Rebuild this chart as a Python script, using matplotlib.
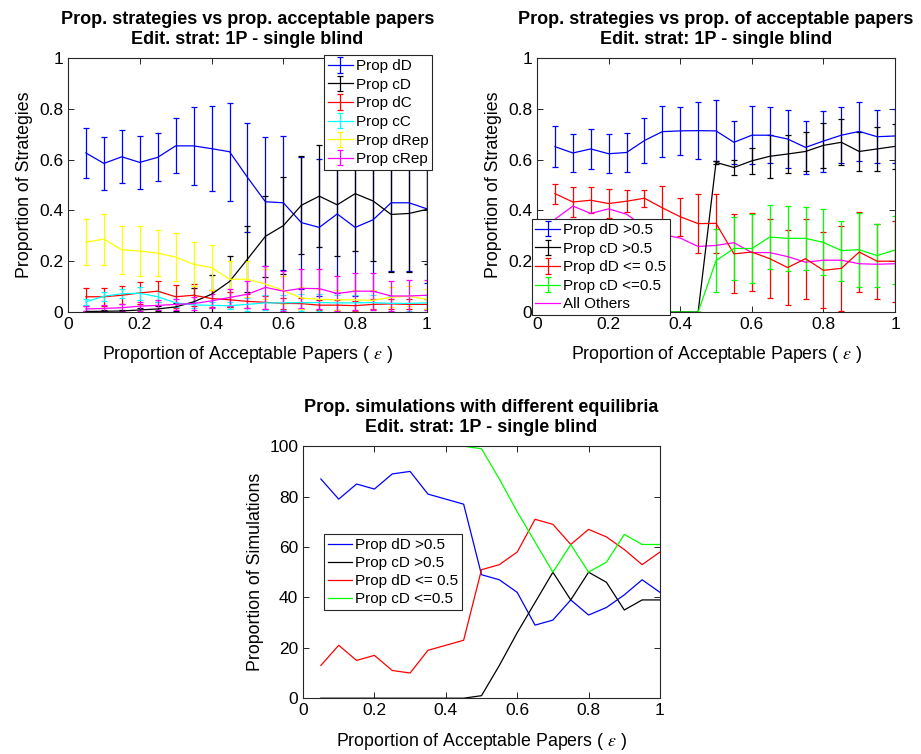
import numpy as np
import matplotlib
matplotlib.use("Agg")
import matplotlib.pyplot as plt

plt.rcParams["font.family"] = ["Liberation Sans", "DejaVu Sans"]
plt.rcParams["mathtext.fontset"] = "stix"

# x values: proportion of acceptable papers
eps = [0.05, 0.10, 0.15, 0.20, 0.25, 0.30, 0.35, 0.40, 0.45, 0.50,
       0.55, 0.60, 0.65, 0.70, 0.75, 0.80, 0.85, 0.90, 0.95, 1.00]

# top left: strategy proportions (mean, error)
dd_mean = [0.626, 0.585, 0.611, 0.589, 0.609, 0.654, 0.654, 0.643, 0.631, 0.530,
           0.434, 0.430, 0.352, 0.333, 0.386, 0.333, 0.363, 0.430, 0.430, 0.406]
dd_err = [0.100, 0.105, 0.104, 0.105, 0.094, 0.108, 0.153, 0.167, 0.193, 0.215,
          0.254, 0.264, 0.260, 0.270, 0.310, 0.270, 0.280, 0.270, 0.270, 0.290]
cd_mean = [0.002, 0.003, 0.004, 0.008, 0.012, 0.020, 0.040, 0.070, 0.120, 0.208,
           0.298, 0.340, 0.420, 0.456, 0.422, 0.466, 0.437, 0.384, 0.388, 0.404]
cd_err = [0.003, 0.004, 0.005, 0.008, 0.010, 0.015, 0.055, 0.075, 0.100, 0.130,
          0.160, 0.190, 0.193, 0.200, 0.200, 0.226, 0.237, 0.225, 0.230, 0.215]
dc_mean = [0.060, 0.060, 0.066, 0.075, 0.082, 0.060, 0.066, 0.053, 0.048, 0.042,
           0.038, 0.034, 0.033, 0.027, 0.027, 0.025, 0.030, 0.032, 0.030, 0.030]
dc_err = [0.035, 0.036, 0.035, 0.045, 0.042, 0.045, 0.044, 0.035, 0.030, 0.028,
          0.025, 0.022, 0.022, 0.020, 0.020, 0.020, 0.020, 0.020, 0.020, 0.020]
cc_mean = [0.040, 0.062, 0.072, 0.074, 0.060, 0.036, 0.028, 0.026, 0.025, 0.030,
           0.036, 0.036, 0.037, 0.037, 0.036, 0.036, 0.037, 0.034, 0.034, 0.036]
cc_err = [0.012, 0.018, 0.018, 0.026, 0.022, 0.015, 0.012, 0.012, 0.015, 0.025,
          0.030, 0.030, 0.035, 0.032, 0.030, 0.030, 0.030, 0.030, 0.030, 0.030]
drep_mean = [0.275, 0.287, 0.245, 0.240, 0.232, 0.216, 0.188, 0.175, 0.129, 0.129,
             0.110, 0.085, 0.055, 0.050, 0.048, 0.048, 0.046, 0.058, 0.062, 0.050]
drep_err = [0.090, 0.100, 0.095, 0.100, 0.090, 0.095, 0.086, 0.087, 0.071, 0.070,
            0.060, 0.055, 0.045, 0.040, 0.040, 0.040, 0.040, 0.040, 0.040, 0.040]
crep_mean = [0.012, 0.014, 0.017, 0.023, 0.026, 0.030, 0.033, 0.044, 0.057, 0.070,
             0.097, 0.082, 0.093, 0.092, 0.073, 0.082, 0.082, 0.063, 0.063, 0.066]
crep_err = [0.010, 0.012, 0.014, 0.018, 0.020, 0.022, 0.025, 0.028, 0.035, 0.053,
            0.086, 0.080, 0.078, 0.079, 0.069, 0.073, 0.073, 0.060, 0.064, 0.060]

# top right: proportion of strategies per equilibrium type
pdd_mean = [0.651, 0.626, 0.642, 0.623, 0.628, 0.675, 0.710, 0.713, 0.714, 0.713,
            0.668, 0.696, 0.696, 0.681, 0.648, 0.673, 0.696, 0.711, 0.690, 0.693]
pdd_err = [0.080, 0.075, 0.078, 0.077, 0.075, 0.087, 0.100, 0.093, 0.113, 0.120,
           0.084, 0.115, 0.110, 0.115, 0.105, 0.120, 0.110, 0.116, 0.105, 0.105]
pcd_mean = [0, 0, 0, 0, 0, 0, 0, 0, 0, 0.589,
            0.569, 0.595, 0.613, 0.622, 0.632, 0.656, 0.668, 0.632, 0.642, 0.652]
pcd_err = [0, 0, 0, 0, 0, 0, 0, 0, 0, 0.005,
           0.031, 0.052, 0.085, 0.076, 0.075, 0.090, 0.090, 0.075, 0.086, 0.090]
pdle_mean = [0.466, 0.433, 0.440, 0.427, 0.436, 0.448, 0.410, 0.375, 0.348, 0.349,
             0.229, 0.236, 0.210, 0.175, 0.210, 0.164, 0.172, 0.236, 0.200, 0.200]
pdle_err = [0.039, 0.060, 0.052, 0.056, 0.044, 0.034, 0.085, 0.075, 0.117, 0.115,
            0.155, 0.152, 0.155, 0.147, 0.158, 0.150, 0.168, 0.157, 0.147, 0.160]
pcle_mean = [0, 0, 0, 0, 0, 0, 0, 0, 0, 0.202,
             0.250, 0.250, 0.295, 0.290, 0.290, 0.274, 0.242, 0.245, 0.222, 0.244]
pcle_err = [0, 0, 0, 0, 0, 0, 0, 0, 0, 0.125,
            0.125, 0.135, 0.125, 0.127, 0.125, 0.130, 0.118, 0.145, 0.123, 0.135]
others = [0.365, 0.417, 0.388, 0.406, 0.385, 0.335, 0.305, 0.291, 0.258, 0.262,
          0.273, 0.234, 0.234, 0.218, 0.196, 0.204, 0.204, 0.190, 0.188, 0.190]

# bottom: percentage of simulations per equilibrium
sim_dd = [87, 79, 85, 83, 89, 90, 81, 79, 77, 49, 47, 42, 29, 31, 39, 33, 36, 41, 47, 42]
sim_cd = [0, 0, 0, 0, 0, 0, 0, 0, 0, 1, 13, 26, 38, 50, 39, 50, 46, 35, 39, 39]
sim_dle = [13, 21, 15, 17, 11, 10, 19, 21, 23, 51, 53, 58, 71, 69, 61, 67, 64, 59, 53, 58]
sim_cle = [100, 100, 100, 100, 100, 100, 100, 100, 100, 99, 87, 74, 62, 50, 61, 50, 54, 65, 61, 61]

BLUE = (0, 0, 1)
GREEN = (0, 1, 0)
XLABEL = r"Proportion of Acceptable Papers ( $\epsilon$ )"
AXCOL = "#262626"


def style_axes(ax, ymax=1.0, yticks=None):
    ax.set_xlim(0, 1)
    ax.set_ylim(0, ymax)
    ax.set_xticks([0, 0.2, 0.4, 0.6, 0.8, 1.0])
    ax.set_xticklabels(["0", "0.2", "0.4", "0.6", "0.8", "1"])
    if yticks is not None:
        ax.set_yticks(yticks[0])
        ax.set_yticklabels(yticks[1])
    ax.tick_params(direction="in", top=True, right=True, length=4,
                   width=0.7, labelsize=12.5, colors=AXCOL, labelcolor="black")
    for s in ax.spines.values():
        s.set_color(AXCOL)
        s.set_linewidth(0.8)
    ax.set_xlabel(XLABEL, fontsize=12.8, labelpad=9)


def eb(ax, y, e, color, label):
    return ax.errorbar(eps, y, yerr=e, color=color, lw=0.9, elinewidth=0.9,
                       capsize=2.5, capthick=0.9, label=label)


def add_legend(ax, handles, anchor, loc, spacing=0.3):
    leg = ax.legend(handles=handles, loc=loc, bbox_to_anchor=anchor, fontsize=11,
                    fancybox=False, edgecolor=AXCOL, framealpha=1, borderpad=0.25,
                    labelspacing=spacing, handlelength=1.6, handletextpad=0.2,
                    borderaxespad=0)
    leg.get_frame().set_linewidth(0.8)


fig = plt.figure(figsize=(9.21, 7.54), dpi=100)

yt = ([0, 0.2, 0.4, 0.6, 0.8, 1.0], ["0", "0.2", "0.4", "0.6", "0.8", "1"])
TITLE_KW = dict(fontsize=13, fontweight="bold", pad=10, linespacing=1.25)

# top left
ax1 = fig.add_axes([0.0738, 0.5862, 0.3898, 0.3369])
h = [eb(ax1, dd_mean, dd_err, BLUE, "Prop dD"),
     eb(ax1, cd_mean, cd_err, "black", "Prop cD"),
     eb(ax1, dc_mean, dc_err, "red", "Prop dC"),
     eb(ax1, cc_mean, cc_err, "cyan", "Prop cC"),
     eb(ax1, drep_mean, drep_err, "yellow", "Prop dRep"),
     eb(ax1, crep_mean, crep_err, "magenta", "Prop cRep")]
style_axes(ax1, 1.0, yt)
ax1.set_ylabel("Proportion of Strategies", fontsize=12.8)
ax1.set_title("Prop. strategies vs prop. acceptable papers\nEdit. strat: 1P - single blind",
              **TITLE_KW)
add_legend(ax1, h, (1.014, 1.01), "upper right")

# top right
ax2 = fig.add_axes([0.5831, 0.5862, 0.3887, 0.3369])
h = [eb(ax2, pdd_mean, pdd_err, BLUE, "Prop dD >0.5"),
     eb(ax2, pcd_mean, pcd_err, "black", "Prop cD >0.5"),
     eb(ax2, pdle_mean, pdle_err, "red", "Prop dD <= 0.5"),
     eb(ax2, pcle_mean, pcle_err, GREEN, "Prop cD <=0.5")]
h += ax2.plot(eps, others, color="magenta", lw=0.9, label="All Others")
style_axes(ax2, 1.0, yt)
ax2.set_ylabel("Proportion of Strategies", fontsize=12.8)
ax2.set_title("Prop. strategies vs prop. of acceptable papers\nEdit. strat: 1P - single blind",
              **TITLE_KW)
add_legend(ax2, h, (-0.015, -0.013), "lower left")

# bottom
ax3 = fig.add_axes([0.329, 0.0740, 0.3876, 0.3342])
ax3.plot(eps, sim_dd, color=BLUE, lw=0.9, label="Prop dD >0.5")
ax3.plot(eps, sim_cd, color="black", lw=0.9, label="Prop cD >0.5")
ax3.plot(eps, sim_dle, color="red", lw=0.9, label="Prop dD <= 0.5")
ax3.plot(eps, sim_cle, color=GREEN, lw=0.9, label="Prop cD <=0.5")
style_axes(ax3, 100, ([0, 20, 40, 60, 80, 100], ["0", "20", "40", "60", "80", "100"]))
ax3.set_ylabel("Proportion of Simulations", fontsize=12.8)
ax3.set_title("Prop. simulations with different equilibria\nEdit. strat: 1P - single blind",
              **TITLE_KW)
add_legend(ax3, None, (0.059, 0.35), "lower left", spacing=0.26)

fig.savefig("out.png", dpi=100)
